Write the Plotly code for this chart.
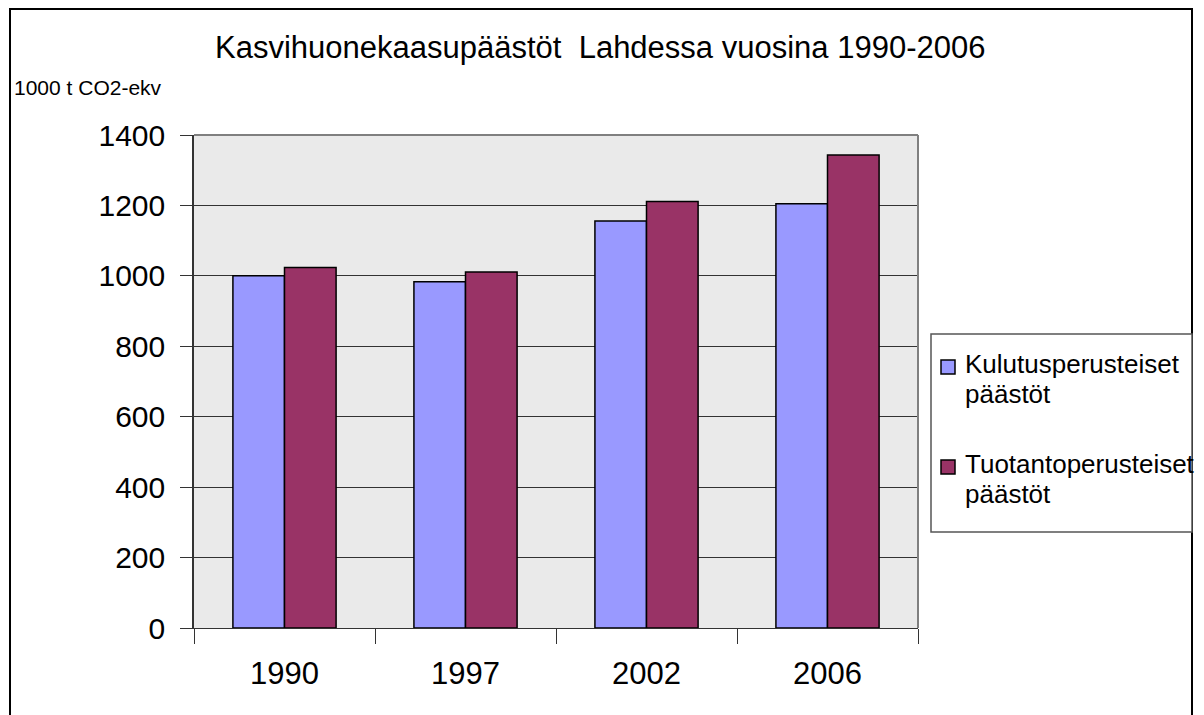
import plotly.graph_objects as go

years = ["1990", "1997", "2002", "2006"]
kulutus = [1000, 983, 1156, 1205]
tuotanto = [1024, 1011, 1211, 1343]
series_names = ["Kulutusperusteiset päästöt", "Tuotantoperusteiset päästöt"]
colors = ["#9999FF", "#993366"]
y_ticks = [0, 200, 400, 600, 800, 1000, 1200, 1400]

OFF = 8  # page body margin
W, H = 1204 - OFF, 715 - OFF
L, R, T, B = 194 - OFF, 286, 135 - OFF, 87
pw, ph = W - L - R, H - T - B

def px(x):
    return (x - OFF - L) / pw

def py(y):
    return (H - B - (y - OFF)) / ph

FONT = "Liberation Sans, Arial, sans-serif"

fig = go.Figure()
for name, vals, col in zip(series_names, [kulutus, tuotanto], colors):
    fig.add_trace(go.Bar(x=years, y=vals, name=name, marker=dict(color=col, line=dict(color="black", width=1.5)),
                         showlegend=False))

shapes = [
    dict(type="rect", xref="paper", yref="paper", x0=px(10), x1=px(1192), y0=py(9), y1=py(740),
         line=dict(color="black", width=2), fillcolor="rgba(0,0,0,0)", layer="below"),
    dict(type="line", xref="paper", yref="paper", x0=0, x1=1, y0=1, y1=1, line=dict(color="#808080", width=2)),
    dict(type="line", xref="paper", yref="paper", x0=1, x1=1, y0=0, y1=1, line=dict(color="#808080", width=2)),
    dict(type="rect", xref="paper", yref="paper", x0=px(931), x1=px(1192), y0=py(334), y1=py(532),
         line=dict(color="#555555", width=1.5), fillcolor="white"),
]
annotations = [
    dict(text="Kasvihuonekaasupäästöt  Lahdessa vuosina 1990-2006", xref="paper", yref="paper",
         x=px(600), y=py(48), xanchor="center", yanchor="middle", showarrow=False,
         font=dict(family=FONT, size=31, color="black")),
    dict(text="1000 t CO2-ekv", xref="paper", yref="paper", x=px(12), y=py(87), xanchor="left",
         yanchor="middle", showarrow=False, font=dict(family=FONT, size=21, color="black")),
]
leg_rows = [(367, 0), (467, 1)]
for ysq, i in leg_rows:
    shapes.append(dict(type="rect", xref="paper", yref="paper", x0=px(941), x1=px(955), y0=py(ysq - 7), y1=py(ysq + 7),
                       line=dict(color="black", width=1.5), fillcolor=colors[i]))
    words = series_names[i].split(" ")
    for j, w in enumerate(words):
        annotations.append(dict(text=w, xref="paper", yref="paper", x=px(963), y=py(ysq - 3 + 30 * j),
                                xanchor="left", yanchor="middle", showarrow=False,
                                font=dict(family=FONT, size=26, color="black")))

fig.update_layout(
    width=W, height=H, margin=dict(l=L, r=R, t=T, b=B, autoexpand=False),
    paper_bgcolor="white", plot_bgcolor="#EAEAEA",
    barmode="group", bargap=0.43, bargroupgap=0,
    font=dict(family=FONT, color="black"),
    shapes=shapes, annotations=annotations,
    xaxis=dict(type="category", tickson="boundaries", ticks="outside", ticklen=15, tickcolor="#333333",
               showline=True, linecolor="#333333", linewidth=1, showgrid=False,
               tickfont=dict(size=31, family=FONT), ticklabelstandoff=18),
    yaxis=dict(range=[0, 1400], tickvals=y_ticks, ticks="outside", ticklen=12, tickcolor="#333333",
               showline=True, linecolor="#333333", linewidth=1.5, showgrid=True, gridcolor="#333333",
               gridwidth=1, zeroline=False, tickfont=dict(size=30, family=FONT), ticklabelstandoff=9),
)

fig.write_html("out.html")
